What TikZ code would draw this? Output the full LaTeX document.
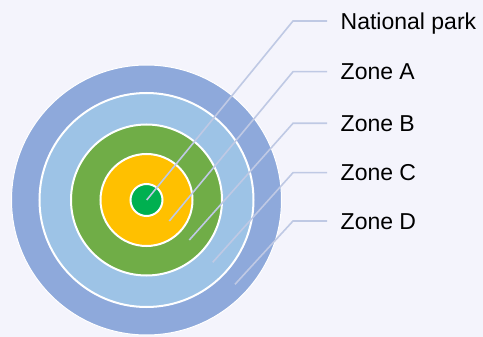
\documentclass[tikz,border=0pt]{standalone}
\usepackage{fontspec}
\setmainfont{Liberation Sans}
\definecolor{bgpage}{HTML}{F4F4FC}
\definecolor{zoneD}{HTML}{8EA9DB}
\definecolor{zoneC}{HTML}{9DC3E6}
\definecolor{zoneB}{HTML}{70AD47}
\definecolor{zoneA}{HTML}{FFC000}
\definecolor{park}{HTML}{00B050}
\definecolor{leadcol}{HTML}{BFC9E4}
\tikzset{
  ring/.style={draw=white, line width=2pt},
  leader/.style={draw=leadcol, line width=1.6pt},
  zonelbl/.style={anchor=west, inner sep=0pt, text height=16.5pt, text depth=0pt,
    font=\fontsize{23}{26}\selectfont}
}
\begin{document}
\begin{tikzpicture}[x=1pt,y=-1pt]
      \fill[bgpage] (0,0) rectangle (483,337);
      \useasboundingbox (0,0) rectangle (483,337);
      \coordinate (c) at (146.5,200);
      \draw[ring, line width=1pt, fill=zoneD] (c) circle (135);
      \draw[ring, fill=zoneC] (c) circle (107);
      \draw[ring, fill=zoneB] (c) circle (75.5);
      \draw[ring, fill=zoneA] (c) circle (46);
      \draw[ring, fill=park] (c) circle (16);
      % labels
      \node[zonelbl] (lblpark) at (340.5,21) {National park};
      \node[zonelbl] (lblA) at (340.5,71.7) {Zone A};
      \node[zonelbl] (lblB) at (340.5,123.3) {Zone B};
      \node[zonelbl] (lblC) at (340.5,172.7) {Zone C};
      \node[zonelbl] (lblD) at (340.5,221) {Zone D};
      % leader lines
      \coordinate (ppark) at (146.7,200);
      \coordinate (pA) at (169.3,221);
      \coordinate (pB) at (189.3,240);
      \coordinate (pC) at (212.7,262.3);
      \coordinate (pD) at (235,284.3);
      \draw[leader] (ppark) -- (293,21) -- ([xshift=-13.5pt]lblpark.west);
      \draw[leader] (pA) -- (293,71.7) -- ([xshift=-13.5pt]lblA.west);
      \draw[leader] (pB) -- (293,123.3) -- ([xshift=-13.5pt]lblB.west);
      \draw[leader] (pC) -- (293,172.7) -- ([xshift=-13.5pt]lblC.west);
      \draw[leader] (pD) -- (293,221) -- ([xshift=-13.5pt]lblD.west);
\end{tikzpicture}
\end{document}
